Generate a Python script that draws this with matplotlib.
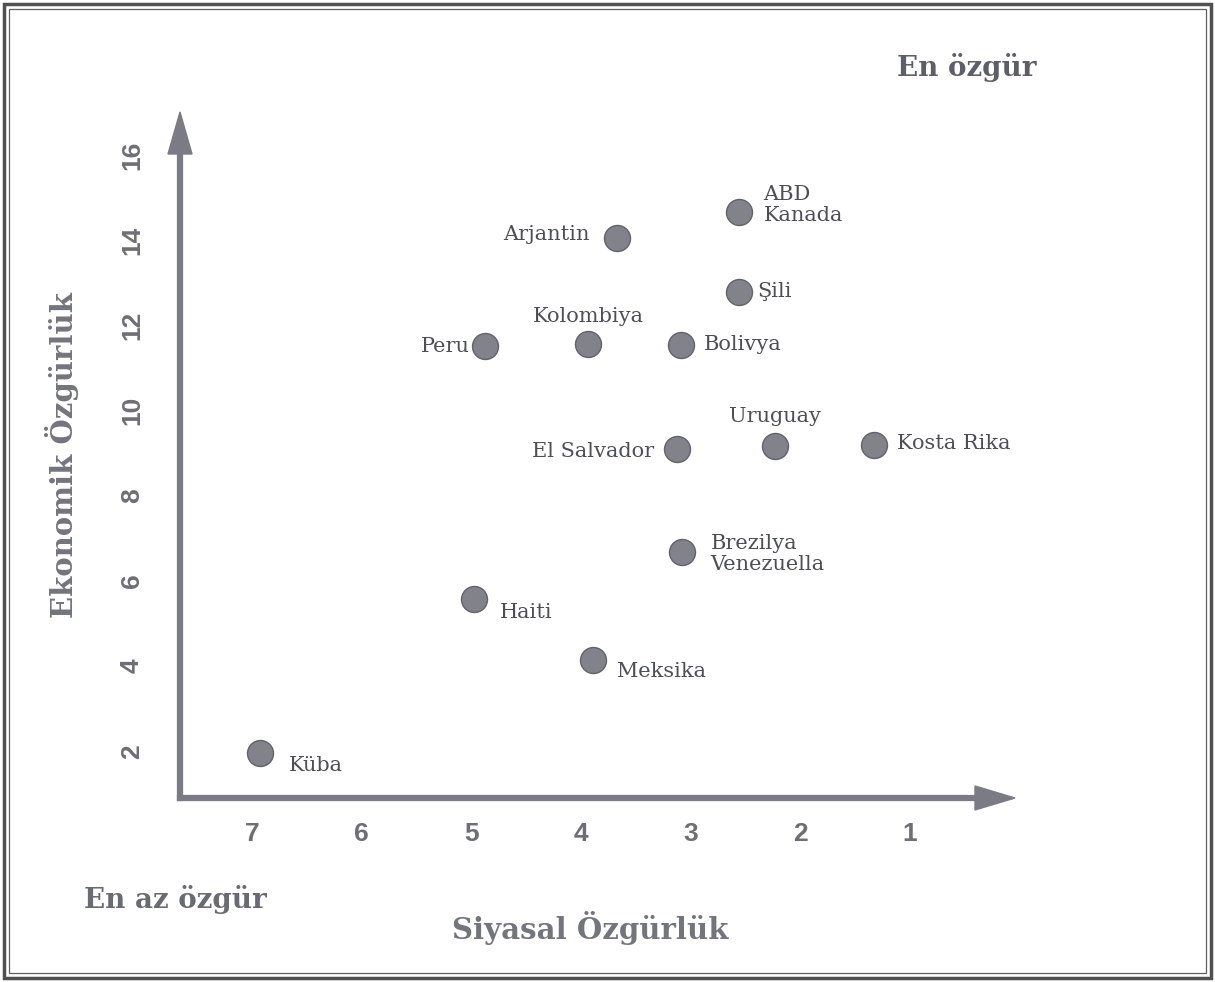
import matplotlib
matplotlib.use("Agg")
import matplotlib.pyplot as plt
from matplotlib.patches import Polygon, Rectangle

# ---- data ----
countries = ["Küba", "Haiti", "Meksika", "Peru", "Kolombiya", "Bolivya", "Arjantin",
             "ABD\nKanada", "Şili", "El Salvador", "Uruguay", "Kosta Rika",
             "Brezilya\nVenezuella"]
political = [6.93, 4.97, 3.89, 4.87, 3.93, 3.09, 3.67, 2.56, 2.56, 3.12, 2.23, 1.32, 3.08]
economic = [1.95, 5.58, 4.15, 11.52, 11.56, 11.54, 14.06, 14.67, 12.79, 9.09, 9.16, 9.20, 6.68]
x_ticks = [7, 6, 5, 4, 3, 2, 1]
y_ticks = [2, 4, 6, 8, 10, 12, 14, 16]

# label placement: (dx px, dy px, ha, va)
label_pos = {
    "Küba": (29, -12, "left", "center"),
    "Haiti": (25, -14, "left", "center"),
    "Meksika": (24, -12, "left", "center"),
    "Peru": (-16, 0, "right", "center"),
    "Kolombiya": (0, 28, "center", "center"),
    "Bolivya": (23, 1, "left", "center"),
    "Arjantin": (-27, 3, "right", "center"),
    "ABD\nKanada": (25, 7, "left", "center"),
    "Şili": (19, 1, "left", "center"),
    "El Salvador": (-23, -2, "right", "center"),
    "Uruguay": (0, 30, "center", "center"),
    "Kosta Rika": (23, 1, "left", "center"),
    "Brezilya\nVenezuella": (29, -2, "left", "center"),
}

axis_col = "#7b7b85"
pt_col = "#82828b"
lab_col = "#4e4e56"
title_col = "#74747c"

W, H = 1215, 982
fig = plt.figure(figsize=(W / 100, H / 100), dpi=100)
fig.patch.set_facecolor("white")

ax_l, ax_b, ax_w, ax_h = 180, 184, 835, 686
ax = fig.add_axes([ax_l / W, ax_b / H, ax_w / W, ax_h / H])
ax.set_xlim(7.657, 0.038)
ax.set_ylim(0.90, 17.02)
for s in ax.spines.values():
    s.set_visible(False)
ax.patch.set_alpha(0)

ax.set_xticks(x_ticks)
ax.set_xticklabels([str(t) for t in x_ticks])
ax.set_yticks(y_ticks)
ax.set_yticklabels([str(t) for t in y_ticks], rotation=90, va="center")
ax.tick_params(axis="x", length=0, pad=17, labelsize=19, labelcolor="#6e6e74")
ax.tick_params(axis="y", length=0, pad=26, labelsize=19, labelcolor="#6e6e74")
for lab in ax.get_xticklabels() + ax.get_yticklabels():
    lab.set_fontfamily("Liberation Sans")
    lab.set_fontweight("bold")

# axis arrows
hl_x, hw_x = 40 / ax_w, 12 / ax_h
hl_y, hw_y = 42 / ax_h, 12 / ax_w
ax.plot([0, 1 - hl_x * 0.6], [0, 0], transform=ax.transAxes, color=axis_col, lw=4.5,
        solid_capstyle="projecting", clip_on=False)
ax.plot([0, 0], [0, 1 - hl_y * 0.6], transform=ax.transAxes, color=axis_col, lw=4.5,
        solid_capstyle="projecting", clip_on=False)
ax.add_patch(Polygon([[1, 0], [1 - hl_x, hw_x], [1 - hl_x, -hw_x]], closed=True,
                     transform=ax.transAxes, color=axis_col, clip_on=False))
ax.add_patch(Polygon([[0, 1], [-hw_y, 1 - hl_y], [hw_y, 1 - hl_y]], closed=True,
                     transform=ax.transAxes, color=axis_col, clip_on=False))

ax.scatter(political, economic, s=350, color=pt_col, edgecolors="#62626b",
           linewidths=1.0, zorder=3, clip_on=False)

for name, x, y in zip(countries, political, economic):
    dx, dy, ha, va = label_pos[name]
    ax.annotate(name, (x, y), xytext=(dx, dy), textcoords="offset pixels",
                ha=ha, va=va, fontsize=15, family="DejaVu Serif", color=lab_col,
                linespacing=1.15)

# titles / annotations
fig.text(590 / W, 1 - 928 / H, "Siyasal Özgürlük", ha="center", va="center",
         fontsize=21, family="DejaVu Serif", weight="bold", color=title_col)
fig.text(62 / W, 1 - 455 / H, "Ekonomik Özgürlük", ha="center", va="center",
         rotation=90, fontsize=21, family="DejaVu Serif", weight="bold", color=title_col)
fig.text(967 / W, 1 - 67 / H, "En özgür", ha="center", va="center",
         fontsize=20, family="DejaVu Serif", weight="bold", color="#5e5e66")
fig.text(175 / W, 1 - 900 / H, "En az özgür", ha="center", va="center",
         fontsize=20, family="DejaVu Serif", weight="bold", color="#6a6a72")

# double frame
fig.add_artist(Rectangle((4 / W, 4 / H), 1 - 8 / W, 1 - 8 / H, transform=fig.transFigure,
                         fill=False, lw=2.5, edgecolor="#505050"))
fig.add_artist(Rectangle((9 / W, 9 / H), 1 - 18 / W, 1 - 18 / H, transform=fig.transFigure,
                         fill=False, lw=0.9, edgecolor="#606060"))

fig.savefig("out.png", dpi=100)
